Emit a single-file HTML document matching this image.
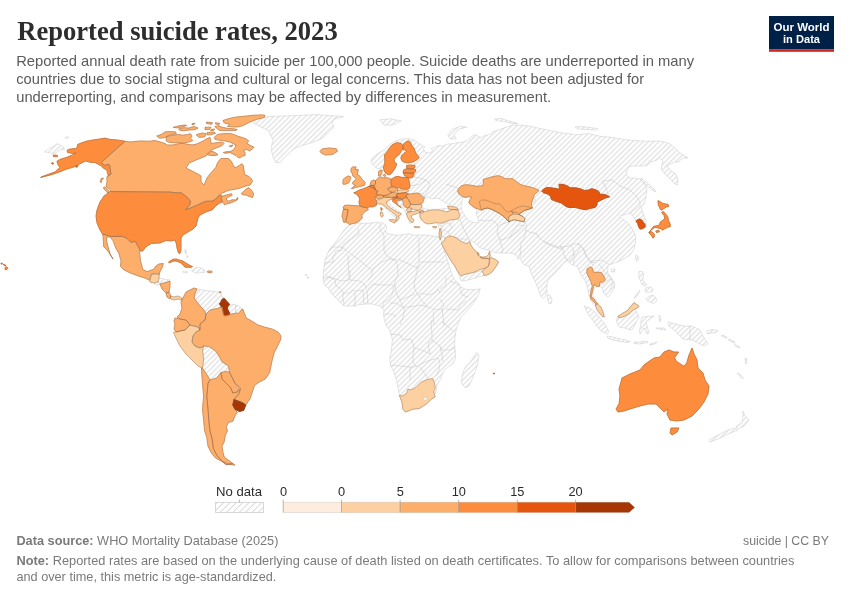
<!DOCTYPE html>
<html><head><meta charset="utf-8"><title>Reported suicide rates, 2023</title>
<style>
html,body{margin:0;padding:0;background:#fff;}
body{width:850px;height:600px;position:relative;overflow:hidden;font-family:"Liberation Sans",sans-serif;}
svg{position:absolute;left:0;top:0;}
text{font-family:"Liberation Sans",sans-serif;}
.ti{font-family:"Liberation Serif",serif;font-weight:bold;font-size:26.4px;fill:#2d2d2d;}
.su{font-size:14.4px;fill:#5b5b5b;}
.lg{font-size:12.8px;fill:#2b2b2b;}
.ft{font-size:12.1px;fill:#7a7a7a;}
.ft .b{font-weight:bold;}
.lo{font-size:11.6px;font-weight:bold;fill:#fff;}
</style></head><body>
<svg width="850" height="600" viewBox="0 0 850 600" style="position:absolute;left:0;top:0">
<defs><pattern id="nd" patternUnits="userSpaceOnUse" width="3.72" height="3.72" patternTransform="rotate(-45)"><rect width="3.72" height="3.72" fill="#fff"/><rect y="0" width="3.72" height="1.25" fill="#e1e1e1"/></pattern></defs>
<g stroke-linejoin="round">
<polygon points="253.2,123 257,119.3 268.2,116.5 296.5,115.5 315.3,114.6 343.5,116.5 334,119.3 332,123 334,127 328.5,132.5 322.8,138 319,140 311.5,142.8 302,145.6 294.6,148.5 289,153 283.3,158.8 279.5,162.6 275.8,162.6 273,157 271,148.5 273,140 268.2,130.6 258.8,125.9" fill="url(#nd)" stroke="#c8c8c8" stroke-width="0.5"/>
<polygon points="371.4,162 371.5,159.1 375,155.6 379.2,152.8 384.8,149.3 389,145.1 394.6,141.6 399.5,139.5 405.1,138.8 410,138.8 414.2,140.2 417.5,142.5 421.25,144.75 425,147 423.5,148.5 425,152.25 428.75,153 431.75,152.25 432.5,150 431,148.5 434,147.75 437,146.25 440,145.5 443,146.25 447.5,144 451.8,143.8 457,142.8 463.5,142 468,140 473,135.5 475.3,134.4 478.8,136.7 481,137.5 484.7,135.5 489.4,134.4 493,132 498.8,129.6 505.9,127.3 513,125 522.4,125 529.4,126.1 536,127.5 540,128.5 549.4,130.4 560,132.5 575.5,134.8 588.5,133.5 598.8,136.1 611.8,137.4 627.3,139.9 645.4,141.2 658,141 665,142 670,144 676,149 680,153 685,156 688,158 684,158 680,160 679,162 675,162 671,164 668,165 667,167 670,170 673,172 676,174 677,177 678,181 677.5,185 675,184 672,181 668,177 664,173 661,169 662,165 663,161 661,159 659,158 657,160 654,161 650,162 648,165 644,166 640,166 633,166 629,167 627,171 626,175 630,178 635,178 640,179 643,182 646,186 647,190 646,195 646,198 644,204 641,207 643,213 646,220 646,227 643,229 640,228 637,223 634,218 630.5,213 625,214.5 619.75,216.25 623.25,219.75 628.5,223.25 632,228.5 635.5,235.5 635.5,242.5 633.75,249.5 630.25,254.75 625,258.25 618,261.75 612.75,263.5 608,265.5 607.5,272.25 611,277.5 614.5,282.75 614.5,288 611,293.25 608,297 604,294 602,288 599,285 596,287 593,290 593,296 596,301 600,306 603,311 605,317 602,316 599,312 596,307 591,301 589,296 588,290 586.5,284 584.75,280 581.25,275.75 577.75,267 574.3,265.3 570.8,264.2 567.3,260.7 565,261.8 562.6,264.2 559.1,268.8 554.5,273.5 549.8,278.1 547.5,281.6 546.9,286.3 546.9,292.1 545.1,296.8 542.8,298.6 540.5,295.6 538.1,288.6 535.2,281.6 532.3,275.8 530,270 528.8,265.9 525.3,265.3 523,263.6 520.7,260.1 517.2,256.6 513.7,253.7 509,253.1 502,253.1 495,252.5 489.6,250.3 484.3,249.3 479.1,247.2 474.9,243 469.6,239.8 470.7,244.6 472.8,248.2 475.9,251.4 477.5,252.4 478.5,255.6 481.2,257.7 486.4,256.6 488.5,254.5 489.6,251.4 490.1,254.5 491.7,257.7 495.9,259.8 498.5,261.9 496.9,265 494.8,268.2 492.7,271.3 488.5,274.5 484.3,275.5 478,277 472,279 466,280.5 461.5,281 460,278 457,270.3 454.9,266.1 451.8,261.9 448.6,256.6 445.5,251.4 443.4,247.2 441.3,243 440.2,239.8 439.2,236.7 439.2,232.5 439,228 437,222.25 431,223 425,222.25 421.25,220 419.75,216.25 419.75,211 416,210.25 413,212.5 410,214 411.5,217.75 413,221.5 410,223.75 408.5,220 407,215.5 405.5,212.5 404,209.5 401,206 397,204 395,201 392,199 389,199 388.25,201.25 390.5,205 395,208.75 399.5,211.75 401.75,214 399.5,216.25 398.75,220 396.5,222.25 395.75,219.25 395,217 392,214.75 388.25,211 384.5,207.25 381.5,204.25 378.5,202.75 375.5,205 371,206.5 365,206.5 368.75,208.75 365.75,211 362.75,214 362,218.5 359.75,221.5 356,222.25 351.5,223.75 349.25,224.5 347.75,221.5 344.75,222.25 342.75,218 342,216.5 342.4,214.25 343.1,211.25 343.5,208.25 343.1,207 345,205.25 349.5,205.25 359.25,206 359.75,205.5 359,202.5 359.75,198.75 358.25,195.75 356,193.9 353.75,192.75 356,192 358.25,190.5 362.75,189 366.5,187.5 368.75,186.4 370.25,184.5 371,181.5 373.25,180 375.5,180.75 377.75,178.5 378.5,175.5 378.5,171.75 380,170.25 382.25,170.25 381.5,174 383.5,175.5 386,176.25 389.75,178.5 391.25,179.25 395,177 398,176.25 402,177.5 404.75,175.5 403.6,172.1 404,170.25 407,168 407,165.75 410,165.4 413.75,165.75 414.9,163 412.8,161.9 408.6,162.9 405.1,162.6 402.3,161.2 400.9,158.4 401.6,155.6 403.7,153.5 406.5,151.4 405.1,150 403,149.3 400.9,151.4 399.5,154.2 396,157 393.9,159.8 394.6,161.9 396.7,164 396,166.1 394.6,168.9 393.2,171 391.1,173.8 388.3,174.8 385.5,173.1 384.1,170.3 383.4,166.8 379.2,168.9 375.7,167.5 372.2,164" fill="url(#nd)" stroke="#c8c8c8" stroke-width="0.5"/>
<polygon points="350,224 360,223 365,223.75 371,223 377,222.25 381.5,222.25 384,224 386,225.25 386.75,228.25 385.25,232 387.5,233.5 395,235 399.5,235 405.5,234.25 408.5,233.5 413,235 419,235 425,235 431,235.75 437,236.5 440,238 441.5,241 444,250 448,262 451,272 454,279 458.5,283.5 460,286.5 466,289.5 475,289.5 480.25,288.75 478,295.5 473.5,303 467.5,310.5 461.5,316.5 458.5,322.5 456,330 455,337.5 454.5,344.5 455.4,351.5 455.4,358.5 452.75,363.75 447.5,367.25 444,370.75 442.25,374.25 440.5,379.5 437,384.75 436.1,391.75 431.75,398.75 426.5,404 419.5,408.4 412.5,409.25 405.5,412 402.9,409.25 402,402.25 399.4,395.25 398.5,390 396.75,381.25 394.1,372.5 390.6,365.5 389.75,358.5 391.5,349.75 392.4,339.25 390.6,332.25 386.25,325.25 384.5,320 383.5,315 384,310 380,306 372,304 364,304 352,306 344,306 338,300 332,294 328,288 324,284 323,278 324,268 325,260 329,250 334,244 340,236 344,230" fill="url(#nd)" stroke="#c8c8c8" stroke-width="0.5"/>
<polygon points="476.4,352.4 479,355 478.1,362 475.5,370.75 472,379.5 468.5,386.5 465,387.4 461.5,383 462.4,374.25 465,367.25 470.25,362 473.75,356.75" fill="url(#nd)" stroke="#c8c8c8" stroke-width="0.5"/>
<polygon points="380,119.8 390.6,118.8 401.2,120.9 392.7,125.1 384.2,125.1" fill="url(#nd)" stroke="#c8c8c8" stroke-width="0.5"/>
<polygon points="447.8,134.6 452,129.4 460.5,126.2 466.8,127.2 458.4,129.4 454.1,134.6 456.2,138.9 449.9,138.9" fill="url(#nd)" stroke="#c8c8c8" stroke-width="0.5"/>
<polygon points="494.1,119 501.2,118.5 508.2,120.8 515.3,122.6 517.6,123.8 510.6,123.2 503.5,121.4 496.5,120.8" fill="url(#nd)" stroke="#c8c8c8" stroke-width="0.5"/>
<polygon points="641,178 646,182 652,187 656,191 655,192 650,188 645,184 641,180" fill="url(#nd)" stroke="#c8c8c8" stroke-width="0.5"/>
<polygon points="611,269 615,269 614.5,272 611.5,272" fill="url(#nd)" stroke="#c8c8c8" stroke-width="0.5"/>
<polygon points="547.5,294.5 550.4,295.6 552.1,300.3 551,303.8 548.6,303.2 547.5,299.1" fill="url(#nd)" stroke="#c8c8c8" stroke-width="0.5"/>
<polygon points="668,322 676,324 684,326 692,326 700,330 704,338 708,344 704,346 696,342 690,339 684,340 680,336 674,330 669,326" fill="url(#nd)" stroke="#c8c8c8" stroke-width="0.5"/>
<polygon points="743,411 745,416 749,420 744,426 738,429 736,427 742,422 743,416" fill="url(#nd)" stroke="#c8c8c8" stroke-width="0.5"/>
<polygon points="734,428 738,430 728,434 718,439 710,442 709,440 716,436 726,431" fill="url(#nd)" stroke="#c8c8c8" stroke-width="0.5"/>
<polygon points="191.8,271.2 194.6,268 198.9,267.3 202.4,268.7 205.6,270.8 204.5,272.6 200.3,272.6 197.5,273.3 194.6,272.6" fill="url(#nd)" stroke="#c8c8c8" stroke-width="0.5"/>
<polygon points="182.6,271.2 186.9,271.2 187.6,272.6 183.3,272.9" fill="url(#nd)" stroke="#c8c8c8" stroke-width="0.5"/>
<polygon points="184.7,249.5 186,250 186.5,254 185.2,253.5" fill="url(#nd)" stroke="#c8c8c8" stroke-width="0.5"/>
<polygon points="186.8,255.5 188.2,256.5 187.6,258 186.5,257" fill="url(#nd)" stroke="#c8c8c8" stroke-width="0.5"/>
<polygon points="575,127 582,126.5 590,127.5 598,128.5 596,130 586,129.5 578,129" fill="url(#nd)" stroke="#c8c8c8" stroke-width="0.5"/>
<polygon points="154,283 158,282 160,284 157.5,285.2 154.5,284.5" fill="url(#nd)" stroke="#c8c8c8" stroke-width="0.5"/>
<polygon points="44.4,151.9 48.75,148.75 53.75,146.25 56.9,143.75 59.4,144.4 63.75,147.5 64.4,149.4 60,150 56.25,152.5 52.5,153.75 48.75,152.5" fill="url(#nd)" stroke="#c8c8c8" stroke-width="0.5"/>
<polygon points="65,137.2 68.75,136.9 68,138.1 65.5,138.1" fill="url(#nd)" stroke="#c8c8c8" stroke-width="0.5"/>
<polygon points="639.2,271.25 642.9,271.7 643.75,275.8 642.5,279.2 644.2,282.5 646.7,284.2 645.8,285.8 642.5,285 640.8,281.7 638.75,277.5 638.75,273.3" fill="url(#nd)" stroke="#c8c8c8" stroke-width="0.5"/>
<polygon points="645,288.3 650,286.7 653.3,289.2 651.7,291.7 648.3,292.5 645.4,291.7" fill="url(#nd)" stroke="#c8c8c8" stroke-width="0.5"/>
<polygon points="648.3,296.7 652.5,295 655.8,297.5 656.7,300.8 654.2,303.3 650.8,302.5 647.5,300.8 645.8,299.2" fill="url(#nd)" stroke="#c8c8c8" stroke-width="0.5"/>
<polygon points="639.6,290.4 640.2,291 634.8,298.3 634.2,297.9" fill="url(#nd)" stroke="#c8c8c8" stroke-width="0.5"/>
<polygon points="635.8,255 638.3,256.7 638.3,260 637.1,261.7 635.4,258.3" fill="url(#nd)" stroke="#c8c8c8" stroke-width="0.5"/>
<polygon points="617,317 618,316 620,315 623,313 626,311.5 629,309 630,307 632,305 634,302.5 636,304 639,306 638,307.5 635,309 637,313 639,316 638,319 635,324 633,329 630,330 625,328 620,327.5 618,325 616.5,321" fill="url(#nd)" stroke="#c8c8c8" stroke-width="0.5"/>
<polygon points="584,306 590,308 596,313 600,318 604,323 607,328 609,332 607,334 603,332 600,330 594,322 588,314" fill="url(#nd)" stroke="#c8c8c8" stroke-width="0.5"/>
<polygon points="607,336 613,337 620,339 626,340 630,341.5 628,342.5 620,341.5 613,340 608,338.5" fill="url(#nd)" stroke="#c8c8c8" stroke-width="0.5"/>
<polygon points="634,342 640,342 647,341 648,342.5 640,344 634,343.5" fill="url(#nd)" stroke="#c8c8c8" stroke-width="0.5"/>
<polygon points="650,344 657,342 656,343.5 650,345.2" fill="url(#nd)" stroke="#c8c8c8" stroke-width="0.5"/>
<polygon points="642,317 654,316 650,319 646,322 647,326 649,333 647,334 644,328 642,331 640,334 639.5,330 641,324 641,320" fill="url(#nd)" stroke="#c8c8c8" stroke-width="0.5"/>
<polygon points="659,315 661,317 660,322 658.8,319" fill="url(#nd)" stroke="#c8c8c8" stroke-width="0.5"/>
<polygon points="656,328 664,328 666,330 660,329.5" fill="url(#nd)" stroke="#c8c8c8" stroke-width="0.5"/>
<polygon points="706.8,331 712,329.5 717.8,330.5 716,332.5 711,333 707.5,334" fill="url(#nd)" stroke="#c8c8c8" stroke-width="0.5"/>
<polygon points="722,335 727,337 726.5,338.2 721.5,336" fill="url(#nd)" stroke="#c8c8c8" stroke-width="0.5"/>
<polygon points="729,339 735,342 734.5,343.2 728.5,340.2" fill="url(#nd)" stroke="#c8c8c8" stroke-width="0.5"/>
<polygon points="735,344.5 740,347 739.5,348 734.5,345.5" fill="url(#nd)" stroke="#c8c8c8" stroke-width="0.5"/>
<polygon points="745,358 746.5,358.5 747,363.5 745.8,364" fill="url(#nd)" stroke="#c8c8c8" stroke-width="0.5"/>
<polygon points="737.5,373 739.5,373.8 743.5,378.2 742.5,378.8 738.5,375" fill="url(#nd)" stroke="#c8c8c8" stroke-width="0.5"/>
<polygon points="305.5,274.5 306.8,274.5 306.8,275.6 305.5,275.6" fill="url(#nd)" stroke="#c8c8c8" stroke-width="0.5"/>
<polygon points="307.5,277 308.8,277 308.8,278.2 307.5,278.2" fill="url(#nd)" stroke="#c8c8c8" stroke-width="0.5"/>
<polygon points="159,278 164,279 170,280 168,282 164,283 160,284 158,282" fill="url(#nd)" stroke="#c8c8c8" stroke-width="0.5"/>
<polygon points="197,289 202,290 210,291 218,292 221,293 222,297 221.5,300 221,302 219.5,303.5 220,305 222,307.5 220,307.5 217.5,308.5 215,309 210,310 206,314 204,310 200,306 197,302 194,298 195,293" fill="url(#nd)" stroke="#c8c8c8" stroke-width="0.5"/>
<polygon points="229.5,304.5 232.5,304.25 235,304.5 236,305 235.5,308 235.5,311 234.5,313.5 232,314 230,314.5 229.5,313 228.5,311 227.5,309 227.5,307 228.5,306" fill="url(#nd)" stroke="#c8c8c8" stroke-width="0.5"/>
<polygon points="236,305 239,306 242,309 240.5,311 238.5,313.5 236.5,313 235.5,311 235.5,308" fill="url(#nd)" stroke="#c8c8c8" stroke-width="0.5"/>
<polygon points="202.5,349.8 209,346.5 215.5,350.8 219.8,357.3 222,361.7 228.5,366 229.6,372.5 226.3,371.4 221,372.5 216.6,378 210,380 206.8,374.7 202.5,368.2 203.6,359.5" fill="url(#nd)" stroke="#c8c8c8" stroke-width="0.5"/>
<polygon points="421,203 422,199 427,197 432,199 437,198 441,200 446,203 451,205 452,207.5 446,208.5 440,209 432,209.5 425,209 422,207" fill="#fff" stroke="#c8c8c8" stroke-width="0.5"/>
<polygon points="463,197 472,198 470,201 469,204 474,207 477,210 476,214 478,218 479,222 475,223 470,221 466,218 464,214 462,211 461,207 462,202" fill="#fff" stroke="#c8c8c8" stroke-width="0.5"/>
<polyline points="358,228 359,234 354,237 349,240 344,244 342,247" fill="none" stroke="#c4c4c4" stroke-width="0.5"/>
<polyline points="342,247 333,247 329,251" fill="none" stroke="#c4c4c4" stroke-width="0.5"/>
<polyline points="342,247 342,250 336,251 335,254 333,256 333,262 324,263" fill="none" stroke="#c4c4c4" stroke-width="0.5"/>
<polyline points="342,247 348,252 358,259 370,269 372,270" fill="none" stroke="#c4c4c4" stroke-width="0.5"/>
<polyline points="348,255 349,280 342,281 332,278 326,276" fill="none" stroke="#c4c4c4" stroke-width="0.5"/>
<polyline points="380,223 380,230 384,235 384,242 384,251 386,255 392,259 396,260" fill="none" stroke="#c4c4c4" stroke-width="0.5"/>
<polyline points="372,269 382,262 390,259 396,260" fill="none" stroke="#c4c4c4" stroke-width="0.5"/>
<polyline points="372,270 372,276 368,280" fill="none" stroke="#c4c4c4" stroke-width="0.5"/>
<polyline points="396,260 397,264 398,272 398,275 394,283 395,284" fill="none" stroke="#c4c4c4" stroke-width="0.5"/>
<polyline points="419,237 419,268" fill="none" stroke="#c4c4c4" stroke-width="0.5"/>
<polyline points="420,262 444,262" fill="none" stroke="#c4c4c4" stroke-width="0.5"/>
<polyline points="419,268 417,268 398,259" fill="none" stroke="#c4c4c4" stroke-width="0.5"/>
<polyline points="417,265 417,273 414,283 415,290 418,295" fill="none" stroke="#c4c4c4" stroke-width="0.5"/>
<polyline points="395,284 396,293 400,300 410,296 415,294" fill="none" stroke="#c4c4c4" stroke-width="0.5"/>
<polyline points="418,295 422,293 428,295 435,293 438,289 440,293" fill="none" stroke="#c4c4c4" stroke-width="0.5"/>
<polyline points="446,277 446,285 440,289" fill="none" stroke="#c4c4c4" stroke-width="0.5"/>
<polyline points="450,281 460,285" fill="none" stroke="#c4c4c4" stroke-width="0.5"/>
<polyline points="460,287 462,295 468,297" fill="none" stroke="#c4c4c4" stroke-width="0.5"/>
<polyline points="446,309 458,310 460,305 466,301" fill="none" stroke="#c4c4c4" stroke-width="0.5"/>
<polyline points="418,295 423,302 428,307 436,310 442,309 444,305 440,299" fill="none" stroke="#c4c4c4" stroke-width="0.5"/>
<polyline points="400,300 403,307 410,307 420,305 428,307" fill="none" stroke="#c4c4c4" stroke-width="0.5"/>
<polyline points="442,309 443,317 444,325" fill="none" stroke="#c4c4c4" stroke-width="0.5"/>
<polyline points="434,311 433,317 434,325" fill="none" stroke="#c4c4c4" stroke-width="0.5"/>
<polyline points="390,303 396,303 405,309 403,317 400,325" fill="none" stroke="#c4c4c4" stroke-width="0.5"/>
<polyline points="323,279 330,277 335,280" fill="none" stroke="#c4c4c4" stroke-width="0.5"/>
<polyline points="335,280 336,286 340,288 343,292" fill="none" stroke="#c4c4c4" stroke-width="0.5"/>
<polyline points="343,292 343,299 344,304" fill="none" stroke="#c4c4c4" stroke-width="0.5"/>
<polyline points="343,293 350,293 353,290 356,291 364,290" fill="none" stroke="#c4c4c4" stroke-width="0.5"/>
<polyline points="355,292 355,307" fill="none" stroke="#c4c4c4" stroke-width="0.5"/>
<polyline points="363,291 364,305" fill="none" stroke="#c4c4c4" stroke-width="0.5"/>
<polyline points="367,290 368,304" fill="none" stroke="#c4c4c4" stroke-width="0.5"/>
<polyline points="350,280 360,281 364,284 367,289" fill="none" stroke="#c4c4c4" stroke-width="0.5"/>
<polyline points="368,289 373,284 380,285 390,285 394,285" fill="none" stroke="#c4c4c4" stroke-width="0.5"/>
<polyline points="394,286 392,295 388,300 384,302 382,308" fill="none" stroke="#c4c4c4" stroke-width="0.5"/>
<polyline points="384,314 392,314 396,317" fill="none" stroke="#c4c4c4" stroke-width="0.5"/>
<polyline points="350,270 350,280" fill="none" stroke="#c4c4c4" stroke-width="0.5"/>
<polyline points="390,334 400,335 403,340 409,339 412,340 414,348 418,349" fill="none" stroke="#c4c4c4" stroke-width="0.5"/>
<polyline points="418,349 424,351 430,354 429,348 428,343 432,340 432,332 431,325 432,320" fill="none" stroke="#c4c4c4" stroke-width="0.5"/>
<polyline points="442,322 450,328 454,332" fill="none" stroke="#c4c4c4" stroke-width="0.5"/>
<polyline points="432,340 440,346 442,350 450,350 455,348" fill="none" stroke="#c4c4c4" stroke-width="0.5"/>
<polyline points="440,347 442,355 443,362" fill="none" stroke="#c4c4c4" stroke-width="0.5"/>
<polyline points="390,365 400,366 410,367 417,366.5" fill="none" stroke="#c4c4c4" stroke-width="0.5"/>
<polyline points="414,348 413,355 413,363 417,366.5" fill="none" stroke="#c4c4c4" stroke-width="0.5"/>
<polyline points="417,366.5 425,362 431,360 438,358" fill="none" stroke="#c4c4c4" stroke-width="0.5"/>
<polyline points="410,367 410,380" fill="none" stroke="#c4c4c4" stroke-width="0.5"/>
<polyline points="420,367 425,374 428,378" fill="none" stroke="#c4c4c4" stroke-width="0.5"/>
<polyline points="438,358 440,363 439,370 436,376" fill="none" stroke="#c4c4c4" stroke-width="0.5"/>
<polyline points="458,217 462,224 463,228 466,233 468,238 470,242" fill="none" stroke="#c4c4c4" stroke-width="0.5"/>
<polyline points="480,220 485,221 492,220 496,223 498,226" fill="none" stroke="#c4c4c4" stroke-width="0.5"/>
<polyline points="498,226 497,233 499,237 500,240" fill="none" stroke="#c4c4c4" stroke-width="0.5"/>
<polyline points="500,240 501,245 503,249 502,253" fill="none" stroke="#c4c4c4" stroke-width="0.5"/>
<polyline points="500,240 505,239 510,237 512,233 516,228 519,225 524.5,225.7" fill="none" stroke="#c4c4c4" stroke-width="0.5"/>
<polyline points="498,226 502,224 506,223 510,222" fill="none" stroke="#c4c4c4" stroke-width="0.5"/>
<polyline points="450,223 452,228 448,232 450,236" fill="none" stroke="#c4c4c4" stroke-width="0.5"/>
<polyline points="450,236 460,239 467,239" fill="none" stroke="#c4c4c4" stroke-width="0.5"/>
<polyline points="442,229 448,232" fill="none" stroke="#c4c4c4" stroke-width="0.5"/>
<polyline points="524.5,221.2 526.75,225.7 525.6,230.2 530,232.4 536.8,233.5 538,236.9 543.5,241.3 551.3,244.7 558,246.9 562.5,246.9 569.2,245.8 574.8,243.6 579.2,244.7 582.6,248 586,255.8 590.4,262.5 594.9,262.5" fill="none" stroke="#c4c4c4" stroke-width="0.5"/>
<polyline points="543.5,241.3 546.8,243.6 554.7,246.9 561.4,249.1 560.3,244.7" fill="none" stroke="#c4c4c4" stroke-width="0.5"/>
<polyline points="525.6,230.2 524.5,236.9 521.2,242.4 520,249.1 521.2,255.8 516.7,259.2" fill="none" stroke="#c4c4c4" stroke-width="0.5"/>
<polyline points="510,236.9 516.7,232.4 521.2,229 524.5,225.7" fill="none" stroke="#c4c4c4" stroke-width="0.5"/>
<polyline points="562.5,246.9 563.6,253.6 565.8,259.2 570.3,260.3 572.5,255.8 577,253.6 580.4,246.9" fill="none" stroke="#c4c4c4" stroke-width="0.5"/>
<polyline points="609,196 605,186 602,181 612,180 620,186 630,190 636,196 640,202 640,206" fill="none" stroke="#c4c4c4" stroke-width="0.5"/>
<polyline points="630.5,213 634,210 640,206" fill="none" stroke="#c4c4c4" stroke-width="0.5"/>
<polyline points="690,326 690,341" fill="none" stroke="#c4c4c4" stroke-width="0.5"/>
<polyline points="458,271 462,275 470,273 482,271 483,272" fill="none" stroke="#c4c4c4" stroke-width="0.5"/>
<polyline points="458,188 452,186 446,184" fill="none" stroke="#c4c4c4" stroke-width="0.5"/>
<polyline points="424,196 428,190 430,184 426,180 420,178 414,177" fill="none" stroke="#c4c4c4" stroke-width="0.5"/>
<polyline points="410,178 414,177 416,172 415,169" fill="none" stroke="#c4c4c4" stroke-width="0.5"/>
<polyline points="410,186 416,185 420,184 426,180" fill="none" stroke="#c4c4c4" stroke-width="0.5"/>
<polyline points="577.6,242.6 580.8,245.8 584.1,249.1 586.3,255.6 590.6,261 595,261" fill="none" stroke="#c4c4c4" stroke-width="0.5"/>
<polyline points="570,244.8 573.3,249.1 574.3,256.7 573.3,263.2" fill="none" stroke="#c4c4c4" stroke-width="0.5"/>
<polyline points="590.6,261 592.8,265.3" fill="none" stroke="#c4c4c4" stroke-width="0.5"/>
<polyline points="595,261 601.4,260 605.8,262 609,264.3" fill="none" stroke="#c4c4c4" stroke-width="0.5"/>
<polyline points="599.3,264.3 602.5,268.6 606.8,274 611.2,278.3 605.8,281.6 601.4,284.8" fill="none" stroke="#c4c4c4" stroke-width="0.5"/>
<polyline points="611.2,278.3 613.3,283.8 610.1,289.2" fill="none" stroke="#c4c4c4" stroke-width="0.5"/>
<polyline points="540,191 536,190.5" fill="none" stroke="#c4c4c4" stroke-width="0.5"/>
<polyline points="533.4,197.4 536,200 531.3,203.8" fill="none" stroke="#c4c4c4" stroke-width="0.5"/>
<polyline points="441.3,236 445.5,237.7" fill="none" stroke="#c4c4c4" stroke-width="0.5"/>
<polyline points="440,224 446,223" fill="none" stroke="#c4c4c4" stroke-width="0.5"/>
<polyline points="446,223 450,223" fill="none" stroke="#c4c4c4" stroke-width="0.5"/>
<polyline points="439.5,226 442,225.5 442,229" fill="none" stroke="#c4c4c4" stroke-width="0.5"/>
<polygon points="5,267.5 6.5,266.8 8,268.2 6.5,269.8 5,269.5" fill="#fd8d3c" stroke="#fd8d3c" stroke-width="0.9"/>
<polygon points="3.2,264.2 5.5,265 5.8,265.8 4,265.4" fill="#fd8d3c" stroke="#fd8d3c" stroke-width="0.9"/>
<polygon points="1,263 2.3,263.2 2,264.2 1,264" fill="#fd8d3c" stroke="#fd8d3c" stroke-width="0.9"/>
<polygon points="618,316 620,315 623,313 626,311.5 629,309 630,307 632,305 634,302.5 636,304 639,306 638,307.5 635,309 632,311 630,313 627,315 624,316.5 621,317.5 618.5,317.5" fill="#fdd0a2" stroke="#fdd0a2" stroke-width="0.9"/>
<polygon points="493.4,373 494.4,373 494.4,374 493.4,374" fill="#fd8d3c" stroke="#fd8d3c" stroke-width="0.9"/>
<polygon points="51.5,163 53,162.6 53.6,163.8 52,164.2" fill="#fd8d3c" stroke="#fd8d3c" stroke-width="0.9"/>
<polygon points="75.5,165.8 77.5,165.2 78,166.6 76,167.3" fill="#fd8d3c" stroke="#fd8d3c" stroke-width="0.9"/>
<polygon points="53,155.3 56,155 58,156 56.5,156.8 53.5,156.5" fill="#fd8d3c" stroke="#fd8d3c" stroke-width="0.9"/>
<polygon points="67,150.4 69.1,149.3 72.3,148.8 75.5,148.5 77.1,147.7 77.6,144.5 79.8,143.5 86.25,141.25 92.5,140 100,139 105,138.1 110,139.4 117.5,140 125,141.25 101.3,162.3 104.3,165.4 108.7,164.2 109.9,166 110.5,171.6 111.1,174 108.7,175.9 107.4,173.4 107.1,170.3 103.1,167.9 101.3,166 98.2,164.2 95,162.5 90,162.25 85.6,161 80,163.75 77.5,165.6 71.25,167.75 67.5,168.75 61.25,171.25 52.5,174.4 40.6,177.5 41.25,176.9 55,171.9 60,167.5 58.1,165 56.9,161.25 60,159.4 66.25,157.5 72.5,155 76.25,152.5 73.4,153.6 70.2,153 67.5,152.5" fill="#fd8d3c" stroke="#fd8d3c" stroke-width="0.9"/>
<polygon points="108,193.2 109.9,191.3 111.8,191.6 170,192 175.6,192.8 181.3,192.8 184.1,194.9 187.6,197.7 190.5,201.2 189.8,204.8 186.9,208.3 185.5,209.7 189.8,208.3 194.7,206.2 198.2,204.8 202.5,202.6 206.7,201.2 212.3,201.2 215.9,199.1 218,196.3 220.1,194.9 222.2,196.3 221.5,199.1 222.2,201.9 219.4,203.3 216,205.5 214,208 212,210 207,211.5 204,213 200,215 198,218 197,222 196,226 193,229 188,232 183,235 181,238 181,244 181,250 180,253.5 178.5,253 177,248 176.5,244 175,240 171,241 166,240.5 160,243 155,243.2 151.4,243.4 146,246.7 142.7,251 140.5,251 138.4,246.7 135.1,241.3 130.9,242.4 126.6,238 122.2,236.4 111.3,236.4 102.6,234.2 100,230 97,223 96,216 97,210 100,202 104,196" fill="#fd8d3c" stroke="#fd8d3c" stroke-width="0.9"/>
<polygon points="125,141.25 130,142 140,141 150,141.25 154.5,140.5 159,141.6 165,143.5 167.25,145 172.5,145 176.25,144.25 180,143.5 183.75,143.5 187.5,144.25 192,145 195.75,144.25 198,143.5 201,142 204,140.5 206.25,139 210,137.5 211.25,143.5 216.5,142.75 222.5,142 224,143.5 221.75,145.75 218,147.25 214.25,148.75 211.25,150.25 208,153 206,156 196,160 189,163 186,168 190,170 198,174 201,176 201,182 204,185 207,178 210,174 215.75,167.5 217.5,163 219.5,160 221,158.5 228.5,158.5 231.5,161.5 233.75,166.75 236,167.5 242,163.75 243.1,165.25 244.25,172 245,175 248.75,176.25 251.25,178.75 252.5,181.25 250,185 245,186.25 240,188.1 233.75,189.4 230,190 226.25,191.25 222.5,193.1 220.1,194.9 218,196.3 215.9,199.1 212.3,201.2 206.7,201.2 202.5,202.6 198.2,204.8 194.7,206.2 189.8,208.3 185.5,209.7 186.9,208.3 189.8,204.8 190.5,201.2 187.6,197.7 184.1,194.9 181.3,192.8 175.6,192.8 170,192 111.5,191.6 110.5,190.1 108.7,188.2 106.2,186.4 106.5,183.9 107.1,181.5 106.8,178.4 107.4,175.9 108.7,175.9 111.1,174 110.5,171.6 109.9,166 108.7,164.2 104.3,165.4 101.3,162.3" fill="#fdae6b" stroke="#fdae6b" stroke-width="0.9"/>
<polygon points="220.5,196.8 224,195.6 228,194.6 231.5,193.8 232.2,195.3 229,196.8 226.5,198.3 226.5,199.8 228.6,201.2 232,199.8 236.25,200 237.5,197.5 238,199.2 235,201 231,202.8 226.5,204 224.3,204.8 223.6,203.3 222.2,201.9 221.5,199.1" fill="#fdae6b" stroke="#fdae6b" stroke-width="0.9"/>
<polygon points="103.4,187.6 105,187 107.4,188.9 108.7,191.3 108,193.2 106.2,191.3 104,188.9" fill="#fdae6b" stroke="#fdae6b" stroke-width="0.9"/>
<polygon points="101.3,178.4 103.4,178.1 101.9,180.2 101,182.7 100.3,181.5" fill="#fdae6b" stroke="#fdae6b" stroke-width="0.9"/>
<polygon points="241.25,193.75 245,190 248.75,187.5 251.25,190 253.75,193.75 252.5,197.5 248.75,196.25 246.25,195 243.75,195" fill="#fdae6b" stroke="#fdae6b" stroke-width="0.9"/>
<polygon points="156.75,136 161.25,134.5 165,131.9 169.5,131.5 175.5,131.9 176.25,133.75 171,134.5 167.25,136 165,137.5 159.75,138.25" fill="#fdae6b" stroke="#fdae6b" stroke-width="0.9"/>
<polygon points="166.5,136.75 172.5,135.25 178.5,134.5 183,135.25 187.5,134.5 190.5,133.75 192,136 190.5,138.25 192.75,140.5 189,142 184.5,142.75 180,142.75 174.75,142.75 169.5,142.4 166.5,141.25 166.1,139" fill="#fdae6b" stroke="#fdae6b" stroke-width="0.9"/>
<polygon points="173.25,127.4 178.5,125.9 184.5,125.1 186.75,125.5 182.25,127 176.25,127.75" fill="#fdae6b" stroke="#fdae6b" stroke-width="0.9"/>
<polygon points="178.5,128.9 183.75,127.75 189,128.1 192,127 194.25,126.6 198,128.1 195,129.6 189,130 183.75,130.75 180,130.4" fill="#fdae6b" stroke="#fdae6b" stroke-width="0.9"/>
<polygon points="196.5,134.5 202.5,133 206.25,133.75 204.75,136.75 199.5,137.5 197.25,136" fill="#fdae6b" stroke="#fdae6b" stroke-width="0.9"/>
<polygon points="206.5,122 212.5,122.75 211.75,124.25 206.5,123.5" fill="#fdae6b" stroke="#fdae6b" stroke-width="0.9"/>
<polygon points="215.5,122.75 220,123.5 218.5,124.6 215.5,124" fill="#fdae6b" stroke="#fdae6b" stroke-width="0.9"/>
<polygon points="205,127.25 211,127.25 209.5,129.5 205,129.5" fill="#fdae6b" stroke="#fdae6b" stroke-width="0.9"/>
<polygon points="211,129.5 214.75,129.1 213.25,130.6 210.6,130.6" fill="#fdae6b" stroke="#fdae6b" stroke-width="0.9"/>
<polygon points="207.25,132.5 214,132.1 215.5,133.25 211,134.75 207.25,134.75" fill="#fdae6b" stroke="#fdae6b" stroke-width="0.9"/>
<polygon points="192,123.6 195,123.3 194,124.6 192,124.6" fill="#fdae6b" stroke="#fdae6b" stroke-width="0.9"/>
<polygon points="223,120.5 227.5,119 233.5,117.5 238.75,116.75 246.25,116 253.75,115.25 261.25,114.9 265,115.25 264.25,117.5 257.5,119 253.75,120.5 250,122 247,123.5 242.5,125.75 238,126.9 232.75,126.9 227.5,126.5 229.75,124.25 226,123.5 223.75,122.4" fill="#fdae6b" stroke="#fdae6b" stroke-width="0.9"/>
<polygon points="214.75,126.5 218.5,125.75 222.25,127.25 227.5,128.4 233.5,128.75 237.25,129.5 235,130.6 227.5,130.6 220,130.6 217.75,129.1" fill="#fdae6b" stroke="#fdae6b" stroke-width="0.9"/>
<polygon points="214.25,137.5 217.25,134.5 222.5,133.75 230,133.4 233.75,134.5 237.5,136 242,137.5 246.5,139 248.75,141.25 246.5,143.1 249.5,145 254,147.25 252.5,148.75 249.5,151 246.5,149.5 243.5,150.25 245,152.5 245,155.5 242,156.25 240.5,157.75 238.25,157.75 236,155.5 233,154 230,152.5 225.5,153.25 223.25,152.5 226.25,151.75 230.75,151.4 233.75,149.5 235.25,147.25 236,145 233,143.5 230,142 226.25,141.25 222.5,140.5 218.75,140.1 215,139.4" fill="#fdae6b" stroke="#fdae6b" stroke-width="0.9"/>
<polygon points="229.25,146.1 233,145 231.5,146.9" fill="#fdae6b" stroke="#fdae6b" stroke-width="0.9"/>
<polygon points="207.5,154.75 211.25,151 215,152.5 218,154.75 215,155.5 211.25,155.5" fill="#fdae6b" stroke="#fdae6b" stroke-width="0.9"/>
<polygon points="102.6,234.2 111.3,236.4 122.2,236.4 126.6,238 130.9,242.4 135.1,241.3 138.4,246.7 140.5,251 139.4,251.5 140.5,260.8 142.7,269.4 147,271.6 153.5,269.4 155.7,266.2 159,264 163.3,263.5 162.2,267.3 160,271.6 159,275 157,274 152,274 149.7,280.3 144.9,278.1 138.4,276 129.7,272.7 123.2,269.4 120.5,266.2 121,260.8 118.8,253.2 115.6,247.8 113.4,241.3 110.2,236.9 106.9,236.9 106.4,240.2 108,246.7 110.2,254.3 112.9,258.6 112.9,259.1 111.3,256.4 108,251 103.7,246.7 103.1,235.9" fill="#fdae6b" stroke="#fdae6b" stroke-width="0.9"/>
<polygon points="151,274 156,273.6 159,273 159,278 158,282 154,283 150,282 150,278" fill="#fdd0a2" stroke="#fdd0a2" stroke-width="0.9"/>
<polygon points="160,284 164,283 168,282 170,281 170,286 169,292 166,293 162,289" fill="#fdae6b" stroke="#fdae6b" stroke-width="0.9"/>
<polygon points="166,293 169,292 171,296 170,299 167,297" fill="#fdae6b" stroke="#fdae6b" stroke-width="0.9"/>
<polygon points="170,296 174,297 178,296 182,298 182,300 178,299 174,300 171,299" fill="#fdd0a2" stroke="#fdd0a2" stroke-width="0.9"/>
<polygon points="168.5,262.3 170.6,260.6 173.5,259.2 176.3,259 179.1,259.9 182.6,260.9 185.5,262.7 188.3,264.5 191.1,265.9 192.5,266.6 191.1,267.3 187.6,267.3 185.5,267.3 184,266.2 182.6,264.8 180.5,262.7 177.7,261.6 174.9,260.9 172.1,261.6 169.9,262.7" fill="#fd8d3c" stroke="#fd8d3c" stroke-width="0.9"/>
<polygon points="207.6,271 212,271.2 211.8,272.7 207.8,272.6" fill="#fdae6b" stroke="#fdae6b" stroke-width="0.9"/>
<polygon points="219.5,291.6 221,291.8 220.8,292.8 219.5,292.6" fill="#fdae6b" stroke="#fdae6b" stroke-width="0.9"/>
<polygon points="320,151.25 322.5,148.75 330,148 336.25,148.75 337.5,151.25 332.5,154.5 325,155 321.25,153" fill="#fdae6b" stroke="#fdae6b" stroke-width="0.9"/>
<polygon points="197,289 194,288 190,290 186,292 183,298 181,302 182,308 180,314 177,317 180,319 186,320 190,325 194,326 198,327 200,330 200,324 205,320 206,314 204,310 200,306 197,302 194,298 195,293" fill="#fdae6b" stroke="#fdae6b" stroke-width="0.9"/>
<polygon points="223.5,298.25 225,299 226.5,301 228.5,303 229.5,304.5 228.5,306 227.5,307 227.5,309 228.5,311 229.5,313 230,314.5 227.5,315.5 225,316 223.5,315 223,312.5 222.5,310 222,307.5 220,305 219.5,303.5 221,302 221.5,300" fill="#a63603" stroke="#a63603" stroke-width="0.9"/>
<polygon points="206,314 210,310 215,309 217.5,308.5 220,307.5 222,307.5 223,312.5 223.5,315 225,316 227.5,315.5 230,314.5 232,314 234.5,313.5 236.5,313 238.5,313.5 240.5,311 242,309 243,309.5 244,312.5 245.5,316 246,318 250,320 258,325 264,327 272,329 278,332 281,336 280.5,340 277.3,346.5 274,353 271.8,361.7 269.7,372.5 265.3,379 258.8,382.3 254.5,385.5 252.3,392 250.2,398.5 245.8,405 242.6,402.8 237.2,400.7 233.9,399.6 239.3,392 240.4,387.7 235,383.3 231.8,376.8 229.6,372.5 228.5,366 222,361.7 219.8,357.3 215.5,350.8 209,346.5 204,346 200,348 195,346 192,342 193,336 196,332 200,330 200,324 205,320" fill="#fdae6b" stroke="#fdae6b" stroke-width="0.9"/>
<polygon points="173.6,332.4 176,338 180,346 186,354 192,360 198,366 202.5,368.2 203.6,359.5 202.5,349.8 204,346 200,348 195,346 192,342 193,336 196,332 200,330 198,327 194,326 190,325 188,327 185,330 180,331 176,332" fill="#fdd0a2" stroke="#fdd0a2" stroke-width="0.9"/>
<polygon points="175,318 180,319 186,320 190,325 188,327 185,330 180,331 176,332 174,329 175,324 174,321" fill="#fdae6b" stroke="#fdae6b" stroke-width="0.9"/>
<polygon points="221,372.5 226.3,371.4 229.6,372.5 231.8,376.8 235,383.3 239.3,387.7 237.2,392 232.8,393 230.7,387.7 226.3,383.3 222,379" fill="#fdae6b" stroke="#fdae6b" stroke-width="0.9"/>
<polygon points="210,380 216.6,378 221,372.5 222,379 226.3,383.3 230.7,387.7 232.8,393 237.2,392 240.4,388.8 239.3,394.2 235,398.5 232.8,405 235,409.3 237.2,412.6 235,415.8 232.8,421.3 228.5,422.3 226.3,426.7 227.4,431 225.3,435.3 224.2,441.8 222,446.2 223,452.7 224.2,457 232.8,463.5 226.3,464.6 222,461.3 216.6,454.8 213.3,448.3 212.3,439.7 210,431 209,422.3 208,409.3 206.8,396.3 208,383.3" fill="#fdae6b" stroke="#fdae6b" stroke-width="0.9"/>
<polygon points="201.4,368.2 202.5,368.2 206.8,374.7 210,380 208,383.3 206.8,396.3 208,409.3 209,422.3 210,431 212.3,439.7 213.3,448.3 216.6,454.8 222,461.3 226.3,464.6 232.8,463.5 235,465.2 228.5,464 222,461.3 215.5,458 211.2,452.7 208,446.2 206.8,437.5 204.7,431 203.6,420.2 202.5,409.3 203.6,396.3 202.5,383.3" fill="#fdae6b" stroke="#fdae6b" stroke-width="0.9"/>
<polygon points="233.9,399.6 237.2,400.7 242.6,402.8 245.8,405 243.7,410.4 239.3,411.5 235,409.3 232.8,405" fill="#a63603" stroke="#a63603" stroke-width="0.9"/>
<polygon points="350.8,171.2 351.3,168 352.9,166.9 356.1,166.9 355.1,169.6 358.3,169.6 357.7,172.8 357.2,174.4 359.3,175.5 360.9,177.6 362.5,179.7 364.1,181.3 365.2,182.4 364.7,185.1 362,186.1 359.3,186.7 356.1,187.2 353.5,188.3 351.3,188.5 353.5,186.7 355.6,185.6 353.5,184.5 352.4,183.5 353.5,181.3 355.1,180.3 356.1,178.7 355.6,177.6 354,177 352.9,176 352.4,173.9" fill="#fdae6b" stroke="#fdae6b" stroke-width="0.9"/>
<polygon points="342.8,182.9 343.3,179.2 346,177.1 348.1,176 350.3,176.5 350.8,178.1 349.7,180.8 348.7,182.9 346,184 343.3,184.3" fill="#fdae6b" stroke="#fdae6b" stroke-width="0.9"/>
<polygon points="397.4,142.6 401.6,143.7 403,146.5 403,149.3 400.9,151.4 399.5,154.2 396,157 393.9,159.8 394.6,161.9 396.7,164 396,166.1 394.6,168.9 393.2,171 391.1,173.8 388.3,174.8 385.5,173.1 384.1,170.3 383.4,166.8 384.8,164 384.8,159.1 384.4,154.9 386.9,152.1 389.7,147.9 391.8,145.1 394.6,143.7" fill="#fd8d3c" stroke="#fd8d3c" stroke-width="0.9"/>
<polygon points="406.5,141.6 409.3,140.9 410.7,143 412.1,145.8 414.2,148.6 415.6,152.8 418.4,156.3 419.1,157.7 417,159.8 412.8,161.9 408.6,162.9 405.1,162.6 402.3,161.2 400.9,158.4 401.6,155.6 403.7,153.5 406.5,151.4 405.1,150 403,149.3 403,146.5 403.7,143.7" fill="#fd8d3c" stroke="#fd8d3c" stroke-width="0.9"/>
<polygon points="406.5,165.4 410,165 414.9,165.4 415,167.5 413,168.9 409,168.6 406.8,168" fill="#fd8d3c" stroke="#fd8d3c" stroke-width="0.9"/>
<polygon points="403.5,170 406.8,168.6 409,168.9 413,168.9 415.6,169.6 415.6,171.5 414,173.1 410,173.1 406,172.8 403.2,172.5" fill="#fd8d3c" stroke="#fd8d3c" stroke-width="0.9"/>
<polygon points="403.2,172.8 406,172.8 410,173.1 414,173.1 413.5,175 412.8,177 410,178 407,177.5 404.5,175.5" fill="#fd8d3c" stroke="#fd8d3c" stroke-width="0.9"/>
<polygon points="391.25,179.25 395,177 398,176.25 402,177.5 407,177.75 408.5,178 409.25,181.75 410,186.25 409.25,188.5 407,189.25 402.5,188.9 398.75,187.75 397.25,188.25 393.5,186.75 392,186.75 390.9,183" fill="#fd8d3c" stroke="#fd8d3c" stroke-width="0.9"/>
<polygon points="375.5,180.75 377.75,178.5 380,177 383,177.75 386,177.75 389.75,178.5 391.25,179.25 390.9,183 392,186.75 389,187.5 387.5,189 389.75,191.25 392,192.4 389.75,193.5 387.5,195 383,195.75 381.5,195 377.75,195 376.25,193.5 377.75,191.25 375.5,189.75 374.75,187.5 374,185.6 375.5,183.75" fill="#fdae6b" stroke="#fdae6b" stroke-width="0.9"/>
<polygon points="378.5,171.75 380,170.25 382.25,170.25 381.5,174 380,176.25 378.5,175.5" fill="#fdae6b" stroke="#fdae6b" stroke-width="0.9"/>
<polygon points="384.2,174 386,175.5 384.5,176.6 383.5,175.5" fill="#fdae6b" stroke="#fdae6b" stroke-width="0.9"/>
<polygon points="370.25,184.5 371,181.5 373.25,180 375.5,180.75 375.5,183.75 374,185.6 371,185.25" fill="#fdae6b" stroke="#fdae6b" stroke-width="0.9"/>
<polygon points="368.75,186.4 371,185.25 374,185.6 374.75,187.5 375.5,189.75 373.25,187.9 371,186.75" fill="#fd8d3c" stroke="#fd8d3c" stroke-width="0.9"/>
<polygon points="353.75,192.75 356,192 358.25,190.5 362.75,189 366.5,187.5 368.75,186.4 371,186.75 373.25,187.9 375.5,189.75 377.75,191.25 376.25,193.5 377.75,195 376.25,196.5 375.5,196.5 374.75,198 376.25,200.25 377,202.5 376.5,203.75 376.25,205.5 375,206 371.75,207 369.75,206.75 367.5,207.5 363,207.1 360,206 359.75,205.5 359,202.5 359.75,198.75 358.25,195.75 356,193.9" fill="#fd8d3c" stroke="#fd8d3c" stroke-width="0.9"/>
<polygon points="381,207.5 382.1,208.6 381.75,210.5 380.9,209.75" fill="#fd8d3c" stroke="#fd8d3c" stroke-width="0.9"/>
<polygon points="375.5,196.5 377.75,195 381.5,195 383,195.75 383.75,197.25 381.5,198.75 378.5,198.75 376.25,198" fill="#fdae6b" stroke="#fdae6b" stroke-width="0.9"/>
<polygon points="343.5,208.25 343.1,207 345,205.25 349.5,205.25 354,205.6 359.25,206 363,207.1 367.5,208.25 368.25,209.75 365.25,211.25 363,213.5 361.5,215.75 362.25,218 360,220.25 357,222.5 354,223.25 351,224 349.5,224.75 348,223.25 345.75,221.75 346.1,219.5 346.9,216.5 347.6,212.75 348,209.75 343.5,209" fill="#fdae6b" stroke="#fdae6b" stroke-width="0.9"/>
<polygon points="343.5,209 348,209.75 347.6,212.75 346.9,216.5 346.1,219.5 345.75,221.75 345,222.5 343.5,222.1 343.1,220.25 342.75,218 342,216.5 342.4,214.25 343.1,211.25" fill="#fdae6b" stroke="#fdae6b" stroke-width="0.9"/>
<polygon points="376.5,201 377.75,199.5 380,198.75 383.75,197.25 386,197.25 389.75,197.25 392.75,199.1 388.5,200.25 386.25,201.75 387,204.75 390,207.75 393.75,210 397.5,212.25 401.25,213.75 399.75,215.25 398.25,216 399,218.25 397.5,219.75 396.75,221.25 396,219 396.75,216.75 395.25,214.5 392.25,212.25 388.5,209.25 384.75,206.25 381.75,204 378.75,204 376.5,203.25" fill="#fdd0a2" stroke="#fdd0a2" stroke-width="0.9"/>
<polygon points="389.25,219.75 393,219.4 395.6,220.5 394.9,223.1 392.25,222 390,220.9" fill="#fdd0a2" stroke="#fdd0a2" stroke-width="0.9"/>
<polygon points="380.25,212 382.5,212.4 383.25,216.1 381.75,217.25 380.6,215.75" fill="#fdd0a2" stroke="#fdd0a2" stroke-width="0.9"/>
<polygon points="383.75,196.9 383,195.75 387.5,195 389.75,193.5 392,192.4 395.75,192.75 397.25,193.25 398,193.5 396.5,194.5 397.25,196.5 393.5,197.25 389.75,197.25 386,197.25" fill="#fdae6b" stroke="#fdae6b" stroke-width="0.9"/>
<polygon points="387.5,189 390.5,187.5 393.5,186.75 397.25,188.25 398,190.5 397.25,190.75 395,191.25 392,192.4 389.75,191.25" fill="#fdae6b" stroke="#fdae6b" stroke-width="0.9"/>
<polygon points="397.25,190.75 399.5,190 403.25,190 407,189.6 408.9,190.75 406.25,192.25 402.5,193 399.5,193.4 398,193.5 398,192.6" fill="#fdd0a2" stroke="#fdd0a2" stroke-width="0.9"/>
<polygon points="396.5,194.5 398,193.5 399.5,193.4 402.5,193 406.25,192.6 408.5,194.1 406.25,195.25 406.25,196.75 403.25,198.25 399.5,198.25 397.25,197.5 397.25,196.5" fill="#fd8d3c" stroke="#fd8d3c" stroke-width="0.9"/>
<polygon points="392.75,199.1 392.75,197.5 393.5,197.25 397.25,196.5 397.25,197.9 395,198.25 394,199.5" fill="#fd8d3c" stroke="#fd8d3c" stroke-width="0.9"/>
<polygon points="395,198.25 397.25,197.9 399.5,198.6 402.5,199.75 399.5,200.5 396.5,201.25 398,205 401.25,207.75 399,206.25 395.25,203.25 392.25,201 394,199.5" fill="#fd8d3c" stroke="#fd8d3c" stroke-width="0.9"/>
<polygon points="402.5,199 406.25,197.5 406.25,196.75 408.5,199.75 410,202.75 410.75,204.25 410,205.5 409.25,207.25 406.25,208 404,205.75 403.25,203.5 402.5,200.5 402.5,199.75" fill="#fdae6b" stroke="#fdae6b" stroke-width="0.9"/>
<polygon points="406.25,195.25 408.5,194.1 412.25,193.75 416.75,193 419.75,193.75 422,196 424.25,197.5 423.5,200.5 422.75,202.75 419.75,204.25 416.75,204.6 413,204.6 410.75,204.25 410,202.75 408.5,199.75 406.25,196.75" fill="#fdae6b" stroke="#fdae6b" stroke-width="0.9"/>
<polygon points="410.75,204.25 413,204.6 416.75,204.6 419.75,204.25 422,205 421.25,208 420.5,209.5 417.5,210.25 414.5,209.5 411.5,208.75 410.25,206.5 410,205.5" fill="#fdd0a2" stroke="#fdd0a2" stroke-width="0.9"/>
<polygon points="406.5,209.25 409.25,207.25 410.25,208.9 411.5,208.75 411,211.5 408,212.25" fill="#fdd0a2" stroke="#fdd0a2" stroke-width="0.9"/>
<polygon points="406.5,213 408,212.25 411,211.5 414,211.5 417.5,210.25 418.5,210.75 420,212.25 417,213.75 414,214.5 411.75,215.25 411,217.5 414,219.75 412.5,222.75 410.25,221.25 408.75,219 407.25,216.75" fill="#fdd0a2" stroke="#fdd0a2" stroke-width="0.9"/>
<polygon points="414,226.5 420,226.9 419.25,227.6 414.75,227.6" fill="#fdd0a2" stroke="#fdd0a2" stroke-width="0.9"/>
<polygon points="421.5,210.75 425,211.75 428.75,210.6 433.25,209.9 437.75,209.9 442.25,210.6 446.75,212.1 449,211 452,209.5 455,209.5 458,210 460,216 458,219 450,220 442,223 435,222.75 432,223.5 427.5,223.9 424.5,222.75 421.5,219.75 420,216.75 420,213" fill="#fdd0a2" stroke="#fdd0a2" stroke-width="0.9"/>
<polygon points="419.75,211 422.75,210.25 423.5,212.5 420.5,213.25" fill="#fdd0a2" stroke="#fdd0a2" stroke-width="0.9"/>
<polygon points="432.5,226.75 436,226.5 437,226.9 435,228.25" fill="#fdd0a2" stroke="#fdd0a2" stroke-width="0.9"/>
<polygon points="447.5,206 451,206.5 455,207 458,208.5 458,210 455,209.5 452,209.5 449,209" fill="#fdd0a2" stroke="#fdd0a2" stroke-width="0.9"/>
<polygon points="458.2,189 461.4,185.8 465.6,184.7 470.9,185.2 476.2,186.3 482.5,185.8 483.6,182.6 483.1,179.4 486.8,178.4 492.1,176.8 497.4,175.7 500.6,176.2 504.8,178.4 509,178.9 512.2,178.4 516.4,181.5 520.7,184.7 524.9,185.8 529.2,186.8 533.4,187.9 538.7,190 537.6,192.1 534.4,194.2 533.4,197.4 532.3,200.6 531.3,203.8 532.3,208 529.2,209.1 524.9,210.1 521.7,212.3 518.6,214.4 522.8,216.5 524.9,218.6 523.9,221.8 518.6,220.7 514.3,219.7 511.1,220.7 509,221.8 506.9,219.7 503.7,216.5 499.5,213.3 495.3,211.2 491,209.1 487.8,208 484.7,208.5 481.5,210.1 478.3,209.1 475.1,208 472,205.9 468.8,202.7 469.8,199.5 472,197.4 468.8,196.4 465.6,197.4 462.4,196.4 459.2,194.2 457.6,191.6" fill="#fdae6b" stroke="#fdae6b" stroke-width="0.9"/>
<polygon points="479.4,201.7 481.5,200.1 485.7,200.1 490,201.7 495.3,203.8 499.5,203.8 502.7,207 504.8,210.1 508,212.3 511.1,211.2 513.3,212.3 512.2,214.4 509,216.5 508.5,218.6 509,221.8 506.9,219.7 503.7,216.5 499.5,213.3 495.3,211.2 491,209.1 487.8,208 484.7,208.5 481.5,210.1 480.4,207" fill="#fdae6b" stroke="#fdae6b" stroke-width="0.9"/>
<polygon points="511.1,211.2 514.3,209.1 518.6,207 522.8,205.9 529.2,207 532.3,208 529.2,209.1 524.9,210.1 521.7,212.3 518.6,214.4 516.4,212.3 513.3,212.3" fill="#fdae6b" stroke="#fdae6b" stroke-width="0.9"/>
<polygon points="509,216.5 512.2,214.4 514.3,214.4 518.6,214.4 522.8,216.5 524.9,218.6 523.9,221.8 518.6,220.7 514.3,219.7 511.1,220.7 509,221.8 508.5,218.6" fill="#fdd0a2" stroke="#fdd0a2" stroke-width="0.9"/>
<polygon points="541.6,191 544.3,188.7 547,187.4 551.4,187.8 559.5,189.2 559,184.3 563,184.3 567.5,186 570.2,187.8 575.6,187.8 580,188.7 584.5,190.5 588.1,190.1 591.7,188.7 595.2,189.6 598.8,191.4 599.7,194.1 605.1,194.5 609.6,196.8 606,197.7 600.6,200.4 597,202.2 597,204.8 595.2,207.5 589.9,208.4 586.3,209.8 580.9,208.9 575.6,207.5 568.4,207.5 564.8,205.7 561.3,203 555.9,201.3 551.4,199.5 550.5,195.9 547,193.7 543.4,192.8" fill="#e6550d" stroke="#e6550d" stroke-width="0.9"/>
<polygon points="441.3,243 444.4,240.4 445.5,237.7 448.6,236.2 451.8,236.2 456,237.7 460.2,240.9 464.4,243 467.5,243.5 468.6,241.9 470.2,242.5 470.7,244.6 472.8,248.2 475.9,251.4 478,253.5 479.1,255.6 481.2,257.7 485.4,258.2 488.5,258.7 489.6,260.8 488.5,266.1 485.4,268.2 479.1,269.7 473.8,272.4 468.6,273.4 464.4,274.5 461.2,276 459.1,273.4 457,270.3 454.9,266.1 451.8,261.9 448.6,256.6 445.5,251.4 443.4,247.2" fill="#fdd0a2" stroke="#fdd0a2" stroke-width="0.9"/>
<polygon points="480.1,256.6 483.3,257.2 486.4,256.6 488.5,254.5 489.6,251.4 490.1,254.5 489.6,258.7 485.4,258.7 481.2,258.2" fill="#fdd0a2" stroke="#fdd0a2" stroke-width="0.9"/>
<polygon points="477.5,252.4 479.1,253.5 478.5,255.6 477.5,254.5" fill="#fdd0a2" stroke="#fdd0a2" stroke-width="0.9"/>
<polygon points="489.6,258.7 491.7,257.7 495.9,259.8 498.5,261.9 496.9,265 494.8,268.2 492.7,271.3 488.5,274.5 484.3,275.5 482.2,271.3 485.4,268.2 488.5,266.1 489.6,260.8" fill="#fdd0a2" stroke="#fdd0a2" stroke-width="0.9"/>
<polygon points="440.2,228.3 441.3,231.4 441.3,235.6 440.2,239.8 439.2,236.7 439.2,232.5" fill="#fdd0a2" stroke="#fdd0a2" stroke-width="0.9"/>
<polygon points="636.25,220.5 639.25,219 641.5,219.75 643.75,222.75 645.25,225 644.9,227.25 642.25,228.75 640,229.1 638.5,226.5 637.75,223.5 636.6,222" fill="#e6550d" stroke="#e6550d" stroke-width="0.9"/>
<polygon points="658,200.6 660.25,201.75 662.5,203.25 665.5,204 668.1,204.4 668.9,206.25 666.25,207 664,208.5 661.75,210 660.25,209.25 659.5,207 658.4,205.5" fill="#fd8d3c" stroke="#fd8d3c" stroke-width="0.9"/>
<polygon points="661.75,212.25 663.25,211.5 665.5,213.75 667.75,216.75 668.5,220.5 670,223.5 670.4,226.5 667.75,227.25 664.75,228.75 662.5,230.25 661,228.75 658,228 655,227.25 652.75,228.75 650.5,231 649,232.5 651.25,229.5 653.5,226.5 656.5,225.75 659.5,225 660.25,222 662.5,220.5 664.75,218.25 664,215.25 662.5,213.75" fill="#fd8d3c" stroke="#fd8d3c" stroke-width="0.9"/>
<polygon points="649,232.5 652,231.75 654.25,234 654.25,237 652.75,238.1 651.6,235.5 649.75,234" fill="#fd8d3c" stroke="#fd8d3c" stroke-width="0.9"/>
<polygon points="655.75,231 658.75,230.25 659.5,231.75 656.5,232.5" fill="#fd8d3c" stroke="#fd8d3c" stroke-width="0.9"/>
<polygon points="586.9,269.1 590.2,266.9 592.3,268 593.4,272.3 596.6,272.3 601,272.3 603.7,275.6 605.3,279.9 603.1,282.1 599.9,282.1 599.4,286.4 596.6,286.4 594.5,284.2 593.4,287.5 592.3,291.8 591.2,297.2 593.4,298.3 595.6,301.5 597.7,303.7 596.6,304.8 594.5,302.6 591.2,299.4 590.2,296.1 591.2,289.6 592.3,286.4 591.2,282.1 589.1,277.7 586.9,273.4" fill="#fdae6b" stroke="#fdae6b" stroke-width="0.9"/>
<polygon points="595.6,303.7 597.7,304.2 601,307 602.6,311.3 604.2,316.7 602.6,316.7 598.8,312.4 596.6,309.1 595.6,305.9" fill="#fdd0a2" stroke="#fdd0a2" stroke-width="0.9"/>
<polygon points="622,378 630,374 640,370 644,365 648,362 654,358 660,357 664,352 669,350 674,352 678.6,352 674.6,357.6 676,361 684,366.3 687,362.4 688.7,356 692,348 694,354 697,360 698,368 703,373 705,380 709,386 708,394 704,402 698,410 692,416 684,420 677,421 670,420 667,414 668,409 664,412 660,408 656,404 648,404 640,406 630,409 624,411 618,412 616,409 619,404 620,396 619,389 621,382" fill="#fd8d3c" stroke="#fd8d3c" stroke-width="0.9"/>
<polygon points="671,428 679,428 677,432 672,435 670,433" fill="#fd8d3c" stroke="#fd8d3c" stroke-width="0.9"/>
<polygon points="399.4,395.25 402,396.1 406.4,393.5 408.1,389.1 410.75,390 416,387.4 421.25,382.1 427.4,379.5 432.6,378.6 434.4,383 435.25,388.25 433.5,391.75 435.25,397 431.75,398.75 426.5,404 419.5,408.4 412.5,409.25 405.5,412 402.9,409.25 402,402.25" fill="#fdd0a2" stroke="#fdd0a2" stroke-width="0.9"/>
<polygon points="419.75,193.75 422,193 424.25,196 424.25,197.5 422,196" fill="url(#nd)" stroke="#c8c8c8" stroke-width="0.5"/>
<polygon points="396.5,201.25 399.5,200.5 402.5,200.5 403.25,203.5 401.75,206.5 398,205" fill="url(#nd)" stroke="#c8c8c8" stroke-width="0.5"/>
<polygon points="423,397 427.4,397.9 425.6,400.5 423.9,399.6" fill="url(#nd)" stroke="#c8c8c8" stroke-width="0.5"/>
<g fill="none" stroke="#6b5545" stroke-width="0.45" stroke-opacity="0.75">
<polygon points="5,267.5 6.5,266.8 8,268.2 6.5,269.8 5,269.5"/>
<polygon points="3.2,264.2 5.5,265 5.8,265.8 4,265.4"/>
<polygon points="1,263 2.3,263.2 2,264.2 1,264"/>
<polygon points="618,316 620,315 623,313 626,311.5 629,309 630,307 632,305 634,302.5 636,304 639,306 638,307.5 635,309 632,311 630,313 627,315 624,316.5 621,317.5 618.5,317.5"/>
<polygon points="493.4,373 494.4,373 494.4,374 493.4,374"/>
<polygon points="51.5,163 53,162.6 53.6,163.8 52,164.2"/>
<polygon points="75.5,165.8 77.5,165.2 78,166.6 76,167.3"/>
<polygon points="53,155.3 56,155 58,156 56.5,156.8 53.5,156.5"/>
<polygon points="67,150.4 69.1,149.3 72.3,148.8 75.5,148.5 77.1,147.7 77.6,144.5 79.8,143.5 86.25,141.25 92.5,140 100,139 105,138.1 110,139.4 117.5,140 125,141.25 101.3,162.3 104.3,165.4 108.7,164.2 109.9,166 110.5,171.6 111.1,174 108.7,175.9 107.4,173.4 107.1,170.3 103.1,167.9 101.3,166 98.2,164.2 95,162.5 90,162.25 85.6,161 80,163.75 77.5,165.6 71.25,167.75 67.5,168.75 61.25,171.25 52.5,174.4 40.6,177.5 41.25,176.9 55,171.9 60,167.5 58.1,165 56.9,161.25 60,159.4 66.25,157.5 72.5,155 76.25,152.5 73.4,153.6 70.2,153 67.5,152.5"/>
<polygon points="108,193.2 109.9,191.3 111.8,191.6 170,192 175.6,192.8 181.3,192.8 184.1,194.9 187.6,197.7 190.5,201.2 189.8,204.8 186.9,208.3 185.5,209.7 189.8,208.3 194.7,206.2 198.2,204.8 202.5,202.6 206.7,201.2 212.3,201.2 215.9,199.1 218,196.3 220.1,194.9 222.2,196.3 221.5,199.1 222.2,201.9 219.4,203.3 216,205.5 214,208 212,210 207,211.5 204,213 200,215 198,218 197,222 196,226 193,229 188,232 183,235 181,238 181,244 181,250 180,253.5 178.5,253 177,248 176.5,244 175,240 171,241 166,240.5 160,243 155,243.2 151.4,243.4 146,246.7 142.7,251 140.5,251 138.4,246.7 135.1,241.3 130.9,242.4 126.6,238 122.2,236.4 111.3,236.4 102.6,234.2 100,230 97,223 96,216 97,210 100,202 104,196"/>
<polygon points="125,141.25 130,142 140,141 150,141.25 154.5,140.5 159,141.6 165,143.5 167.25,145 172.5,145 176.25,144.25 180,143.5 183.75,143.5 187.5,144.25 192,145 195.75,144.25 198,143.5 201,142 204,140.5 206.25,139 210,137.5 211.25,143.5 216.5,142.75 222.5,142 224,143.5 221.75,145.75 218,147.25 214.25,148.75 211.25,150.25 208,153 206,156 196,160 189,163 186,168 190,170 198,174 201,176 201,182 204,185 207,178 210,174 215.75,167.5 217.5,163 219.5,160 221,158.5 228.5,158.5 231.5,161.5 233.75,166.75 236,167.5 242,163.75 243.1,165.25 244.25,172 245,175 248.75,176.25 251.25,178.75 252.5,181.25 250,185 245,186.25 240,188.1 233.75,189.4 230,190 226.25,191.25 222.5,193.1 220.1,194.9 218,196.3 215.9,199.1 212.3,201.2 206.7,201.2 202.5,202.6 198.2,204.8 194.7,206.2 189.8,208.3 185.5,209.7 186.9,208.3 189.8,204.8 190.5,201.2 187.6,197.7 184.1,194.9 181.3,192.8 175.6,192.8 170,192 111.5,191.6 110.5,190.1 108.7,188.2 106.2,186.4 106.5,183.9 107.1,181.5 106.8,178.4 107.4,175.9 108.7,175.9 111.1,174 110.5,171.6 109.9,166 108.7,164.2 104.3,165.4 101.3,162.3"/>
<polygon points="220.5,196.8 224,195.6 228,194.6 231.5,193.8 232.2,195.3 229,196.8 226.5,198.3 226.5,199.8 228.6,201.2 232,199.8 236.25,200 237.5,197.5 238,199.2 235,201 231,202.8 226.5,204 224.3,204.8 223.6,203.3 222.2,201.9 221.5,199.1"/>
<polygon points="103.4,187.6 105,187 107.4,188.9 108.7,191.3 108,193.2 106.2,191.3 104,188.9"/>
<polygon points="101.3,178.4 103.4,178.1 101.9,180.2 101,182.7 100.3,181.5"/>
<polygon points="241.25,193.75 245,190 248.75,187.5 251.25,190 253.75,193.75 252.5,197.5 248.75,196.25 246.25,195 243.75,195"/>
<polygon points="156.75,136 161.25,134.5 165,131.9 169.5,131.5 175.5,131.9 176.25,133.75 171,134.5 167.25,136 165,137.5 159.75,138.25"/>
<polygon points="166.5,136.75 172.5,135.25 178.5,134.5 183,135.25 187.5,134.5 190.5,133.75 192,136 190.5,138.25 192.75,140.5 189,142 184.5,142.75 180,142.75 174.75,142.75 169.5,142.4 166.5,141.25 166.1,139"/>
<polygon points="173.25,127.4 178.5,125.9 184.5,125.1 186.75,125.5 182.25,127 176.25,127.75"/>
<polygon points="178.5,128.9 183.75,127.75 189,128.1 192,127 194.25,126.6 198,128.1 195,129.6 189,130 183.75,130.75 180,130.4"/>
<polygon points="196.5,134.5 202.5,133 206.25,133.75 204.75,136.75 199.5,137.5 197.25,136"/>
<polygon points="206.5,122 212.5,122.75 211.75,124.25 206.5,123.5"/>
<polygon points="215.5,122.75 220,123.5 218.5,124.6 215.5,124"/>
<polygon points="205,127.25 211,127.25 209.5,129.5 205,129.5"/>
<polygon points="211,129.5 214.75,129.1 213.25,130.6 210.6,130.6"/>
<polygon points="207.25,132.5 214,132.1 215.5,133.25 211,134.75 207.25,134.75"/>
<polygon points="192,123.6 195,123.3 194,124.6 192,124.6"/>
<polygon points="223,120.5 227.5,119 233.5,117.5 238.75,116.75 246.25,116 253.75,115.25 261.25,114.9 265,115.25 264.25,117.5 257.5,119 253.75,120.5 250,122 247,123.5 242.5,125.75 238,126.9 232.75,126.9 227.5,126.5 229.75,124.25 226,123.5 223.75,122.4"/>
<polygon points="214.75,126.5 218.5,125.75 222.25,127.25 227.5,128.4 233.5,128.75 237.25,129.5 235,130.6 227.5,130.6 220,130.6 217.75,129.1"/>
<polygon points="214.25,137.5 217.25,134.5 222.5,133.75 230,133.4 233.75,134.5 237.5,136 242,137.5 246.5,139 248.75,141.25 246.5,143.1 249.5,145 254,147.25 252.5,148.75 249.5,151 246.5,149.5 243.5,150.25 245,152.5 245,155.5 242,156.25 240.5,157.75 238.25,157.75 236,155.5 233,154 230,152.5 225.5,153.25 223.25,152.5 226.25,151.75 230.75,151.4 233.75,149.5 235.25,147.25 236,145 233,143.5 230,142 226.25,141.25 222.5,140.5 218.75,140.1 215,139.4"/>
<polygon points="229.25,146.1 233,145 231.5,146.9"/>
<polygon points="207.5,154.75 211.25,151 215,152.5 218,154.75 215,155.5 211.25,155.5"/>
<polygon points="102.6,234.2 111.3,236.4 122.2,236.4 126.6,238 130.9,242.4 135.1,241.3 138.4,246.7 140.5,251 139.4,251.5 140.5,260.8 142.7,269.4 147,271.6 153.5,269.4 155.7,266.2 159,264 163.3,263.5 162.2,267.3 160,271.6 159,275 157,274 152,274 149.7,280.3 144.9,278.1 138.4,276 129.7,272.7 123.2,269.4 120.5,266.2 121,260.8 118.8,253.2 115.6,247.8 113.4,241.3 110.2,236.9 106.9,236.9 106.4,240.2 108,246.7 110.2,254.3 112.9,258.6 112.9,259.1 111.3,256.4 108,251 103.7,246.7 103.1,235.9"/>
<polygon points="151,274 156,273.6 159,273 159,278 158,282 154,283 150,282 150,278"/>
<polygon points="160,284 164,283 168,282 170,281 170,286 169,292 166,293 162,289"/>
<polygon points="166,293 169,292 171,296 170,299 167,297"/>
<polygon points="170,296 174,297 178,296 182,298 182,300 178,299 174,300 171,299"/>
<polygon points="168.5,262.3 170.6,260.6 173.5,259.2 176.3,259 179.1,259.9 182.6,260.9 185.5,262.7 188.3,264.5 191.1,265.9 192.5,266.6 191.1,267.3 187.6,267.3 185.5,267.3 184,266.2 182.6,264.8 180.5,262.7 177.7,261.6 174.9,260.9 172.1,261.6 169.9,262.7"/>
<polygon points="207.6,271 212,271.2 211.8,272.7 207.8,272.6"/>
<polygon points="219.5,291.6 221,291.8 220.8,292.8 219.5,292.6"/>
<polygon points="320,151.25 322.5,148.75 330,148 336.25,148.75 337.5,151.25 332.5,154.5 325,155 321.25,153"/>
<polygon points="197,289 194,288 190,290 186,292 183,298 181,302 182,308 180,314 177,317 180,319 186,320 190,325 194,326 198,327 200,330 200,324 205,320 206,314 204,310 200,306 197,302 194,298 195,293"/>
<polygon points="223.5,298.25 225,299 226.5,301 228.5,303 229.5,304.5 228.5,306 227.5,307 227.5,309 228.5,311 229.5,313 230,314.5 227.5,315.5 225,316 223.5,315 223,312.5 222.5,310 222,307.5 220,305 219.5,303.5 221,302 221.5,300"/>
<polygon points="206,314 210,310 215,309 217.5,308.5 220,307.5 222,307.5 223,312.5 223.5,315 225,316 227.5,315.5 230,314.5 232,314 234.5,313.5 236.5,313 238.5,313.5 240.5,311 242,309 243,309.5 244,312.5 245.5,316 246,318 250,320 258,325 264,327 272,329 278,332 281,336 280.5,340 277.3,346.5 274,353 271.8,361.7 269.7,372.5 265.3,379 258.8,382.3 254.5,385.5 252.3,392 250.2,398.5 245.8,405 242.6,402.8 237.2,400.7 233.9,399.6 239.3,392 240.4,387.7 235,383.3 231.8,376.8 229.6,372.5 228.5,366 222,361.7 219.8,357.3 215.5,350.8 209,346.5 204,346 200,348 195,346 192,342 193,336 196,332 200,330 200,324 205,320"/>
<polygon points="173.6,332.4 176,338 180,346 186,354 192,360 198,366 202.5,368.2 203.6,359.5 202.5,349.8 204,346 200,348 195,346 192,342 193,336 196,332 200,330 198,327 194,326 190,325 188,327 185,330 180,331 176,332"/>
<polygon points="175,318 180,319 186,320 190,325 188,327 185,330 180,331 176,332 174,329 175,324 174,321"/>
<polygon points="221,372.5 226.3,371.4 229.6,372.5 231.8,376.8 235,383.3 239.3,387.7 237.2,392 232.8,393 230.7,387.7 226.3,383.3 222,379"/>
<polygon points="210,380 216.6,378 221,372.5 222,379 226.3,383.3 230.7,387.7 232.8,393 237.2,392 240.4,388.8 239.3,394.2 235,398.5 232.8,405 235,409.3 237.2,412.6 235,415.8 232.8,421.3 228.5,422.3 226.3,426.7 227.4,431 225.3,435.3 224.2,441.8 222,446.2 223,452.7 224.2,457 232.8,463.5 226.3,464.6 222,461.3 216.6,454.8 213.3,448.3 212.3,439.7 210,431 209,422.3 208,409.3 206.8,396.3 208,383.3"/>
<polygon points="201.4,368.2 202.5,368.2 206.8,374.7 210,380 208,383.3 206.8,396.3 208,409.3 209,422.3 210,431 212.3,439.7 213.3,448.3 216.6,454.8 222,461.3 226.3,464.6 232.8,463.5 235,465.2 228.5,464 222,461.3 215.5,458 211.2,452.7 208,446.2 206.8,437.5 204.7,431 203.6,420.2 202.5,409.3 203.6,396.3 202.5,383.3"/>
<polygon points="233.9,399.6 237.2,400.7 242.6,402.8 245.8,405 243.7,410.4 239.3,411.5 235,409.3 232.8,405"/>
<polygon points="350.8,171.2 351.3,168 352.9,166.9 356.1,166.9 355.1,169.6 358.3,169.6 357.7,172.8 357.2,174.4 359.3,175.5 360.9,177.6 362.5,179.7 364.1,181.3 365.2,182.4 364.7,185.1 362,186.1 359.3,186.7 356.1,187.2 353.5,188.3 351.3,188.5 353.5,186.7 355.6,185.6 353.5,184.5 352.4,183.5 353.5,181.3 355.1,180.3 356.1,178.7 355.6,177.6 354,177 352.9,176 352.4,173.9"/>
<polygon points="342.8,182.9 343.3,179.2 346,177.1 348.1,176 350.3,176.5 350.8,178.1 349.7,180.8 348.7,182.9 346,184 343.3,184.3"/>
<polygon points="397.4,142.6 401.6,143.7 403,146.5 403,149.3 400.9,151.4 399.5,154.2 396,157 393.9,159.8 394.6,161.9 396.7,164 396,166.1 394.6,168.9 393.2,171 391.1,173.8 388.3,174.8 385.5,173.1 384.1,170.3 383.4,166.8 384.8,164 384.8,159.1 384.4,154.9 386.9,152.1 389.7,147.9 391.8,145.1 394.6,143.7"/>
<polygon points="406.5,141.6 409.3,140.9 410.7,143 412.1,145.8 414.2,148.6 415.6,152.8 418.4,156.3 419.1,157.7 417,159.8 412.8,161.9 408.6,162.9 405.1,162.6 402.3,161.2 400.9,158.4 401.6,155.6 403.7,153.5 406.5,151.4 405.1,150 403,149.3 403,146.5 403.7,143.7"/>
<polygon points="406.5,165.4 410,165 414.9,165.4 415,167.5 413,168.9 409,168.6 406.8,168"/>
<polygon points="403.5,170 406.8,168.6 409,168.9 413,168.9 415.6,169.6 415.6,171.5 414,173.1 410,173.1 406,172.8 403.2,172.5"/>
<polygon points="403.2,172.8 406,172.8 410,173.1 414,173.1 413.5,175 412.8,177 410,178 407,177.5 404.5,175.5"/>
<polygon points="391.25,179.25 395,177 398,176.25 402,177.5 407,177.75 408.5,178 409.25,181.75 410,186.25 409.25,188.5 407,189.25 402.5,188.9 398.75,187.75 397.25,188.25 393.5,186.75 392,186.75 390.9,183"/>
<polygon points="375.5,180.75 377.75,178.5 380,177 383,177.75 386,177.75 389.75,178.5 391.25,179.25 390.9,183 392,186.75 389,187.5 387.5,189 389.75,191.25 392,192.4 389.75,193.5 387.5,195 383,195.75 381.5,195 377.75,195 376.25,193.5 377.75,191.25 375.5,189.75 374.75,187.5 374,185.6 375.5,183.75"/>
<polygon points="378.5,171.75 380,170.25 382.25,170.25 381.5,174 380,176.25 378.5,175.5"/>
<polygon points="384.2,174 386,175.5 384.5,176.6 383.5,175.5"/>
<polygon points="370.25,184.5 371,181.5 373.25,180 375.5,180.75 375.5,183.75 374,185.6 371,185.25"/>
<polygon points="368.75,186.4 371,185.25 374,185.6 374.75,187.5 375.5,189.75 373.25,187.9 371,186.75"/>
<polygon points="353.75,192.75 356,192 358.25,190.5 362.75,189 366.5,187.5 368.75,186.4 371,186.75 373.25,187.9 375.5,189.75 377.75,191.25 376.25,193.5 377.75,195 376.25,196.5 375.5,196.5 374.75,198 376.25,200.25 377,202.5 376.5,203.75 376.25,205.5 375,206 371.75,207 369.75,206.75 367.5,207.5 363,207.1 360,206 359.75,205.5 359,202.5 359.75,198.75 358.25,195.75 356,193.9"/>
<polygon points="381,207.5 382.1,208.6 381.75,210.5 380.9,209.75"/>
<polygon points="375.5,196.5 377.75,195 381.5,195 383,195.75 383.75,197.25 381.5,198.75 378.5,198.75 376.25,198"/>
<polygon points="343.5,208.25 343.1,207 345,205.25 349.5,205.25 354,205.6 359.25,206 363,207.1 367.5,208.25 368.25,209.75 365.25,211.25 363,213.5 361.5,215.75 362.25,218 360,220.25 357,222.5 354,223.25 351,224 349.5,224.75 348,223.25 345.75,221.75 346.1,219.5 346.9,216.5 347.6,212.75 348,209.75 343.5,209"/>
<polygon points="343.5,209 348,209.75 347.6,212.75 346.9,216.5 346.1,219.5 345.75,221.75 345,222.5 343.5,222.1 343.1,220.25 342.75,218 342,216.5 342.4,214.25 343.1,211.25"/>
<polygon points="376.5,201 377.75,199.5 380,198.75 383.75,197.25 386,197.25 389.75,197.25 392.75,199.1 388.5,200.25 386.25,201.75 387,204.75 390,207.75 393.75,210 397.5,212.25 401.25,213.75 399.75,215.25 398.25,216 399,218.25 397.5,219.75 396.75,221.25 396,219 396.75,216.75 395.25,214.5 392.25,212.25 388.5,209.25 384.75,206.25 381.75,204 378.75,204 376.5,203.25"/>
<polygon points="389.25,219.75 393,219.4 395.6,220.5 394.9,223.1 392.25,222 390,220.9"/>
<polygon points="380.25,212 382.5,212.4 383.25,216.1 381.75,217.25 380.6,215.75"/>
<polygon points="383.75,196.9 383,195.75 387.5,195 389.75,193.5 392,192.4 395.75,192.75 397.25,193.25 398,193.5 396.5,194.5 397.25,196.5 393.5,197.25 389.75,197.25 386,197.25"/>
<polygon points="387.5,189 390.5,187.5 393.5,186.75 397.25,188.25 398,190.5 397.25,190.75 395,191.25 392,192.4 389.75,191.25"/>
<polygon points="397.25,190.75 399.5,190 403.25,190 407,189.6 408.9,190.75 406.25,192.25 402.5,193 399.5,193.4 398,193.5 398,192.6"/>
<polygon points="396.5,194.5 398,193.5 399.5,193.4 402.5,193 406.25,192.6 408.5,194.1 406.25,195.25 406.25,196.75 403.25,198.25 399.5,198.25 397.25,197.5 397.25,196.5"/>
<polygon points="392.75,199.1 392.75,197.5 393.5,197.25 397.25,196.5 397.25,197.9 395,198.25 394,199.5"/>
<polygon points="395,198.25 397.25,197.9 399.5,198.6 402.5,199.75 399.5,200.5 396.5,201.25 398,205 401.25,207.75 399,206.25 395.25,203.25 392.25,201 394,199.5"/>
<polygon points="402.5,199 406.25,197.5 406.25,196.75 408.5,199.75 410,202.75 410.75,204.25 410,205.5 409.25,207.25 406.25,208 404,205.75 403.25,203.5 402.5,200.5 402.5,199.75"/>
<polygon points="406.25,195.25 408.5,194.1 412.25,193.75 416.75,193 419.75,193.75 422,196 424.25,197.5 423.5,200.5 422.75,202.75 419.75,204.25 416.75,204.6 413,204.6 410.75,204.25 410,202.75 408.5,199.75 406.25,196.75"/>
<polygon points="410.75,204.25 413,204.6 416.75,204.6 419.75,204.25 422,205 421.25,208 420.5,209.5 417.5,210.25 414.5,209.5 411.5,208.75 410.25,206.5 410,205.5"/>
<polygon points="406.5,209.25 409.25,207.25 410.25,208.9 411.5,208.75 411,211.5 408,212.25"/>
<polygon points="406.5,213 408,212.25 411,211.5 414,211.5 417.5,210.25 418.5,210.75 420,212.25 417,213.75 414,214.5 411.75,215.25 411,217.5 414,219.75 412.5,222.75 410.25,221.25 408.75,219 407.25,216.75"/>
<polygon points="414,226.5 420,226.9 419.25,227.6 414.75,227.6"/>
<polygon points="421.5,210.75 425,211.75 428.75,210.6 433.25,209.9 437.75,209.9 442.25,210.6 446.75,212.1 449,211 452,209.5 455,209.5 458,210 460,216 458,219 450,220 442,223 435,222.75 432,223.5 427.5,223.9 424.5,222.75 421.5,219.75 420,216.75 420,213"/>
<polygon points="419.75,211 422.75,210.25 423.5,212.5 420.5,213.25"/>
<polygon points="432.5,226.75 436,226.5 437,226.9 435,228.25"/>
<polygon points="447.5,206 451,206.5 455,207 458,208.5 458,210 455,209.5 452,209.5 449,209"/>
<polygon points="458.2,189 461.4,185.8 465.6,184.7 470.9,185.2 476.2,186.3 482.5,185.8 483.6,182.6 483.1,179.4 486.8,178.4 492.1,176.8 497.4,175.7 500.6,176.2 504.8,178.4 509,178.9 512.2,178.4 516.4,181.5 520.7,184.7 524.9,185.8 529.2,186.8 533.4,187.9 538.7,190 537.6,192.1 534.4,194.2 533.4,197.4 532.3,200.6 531.3,203.8 532.3,208 529.2,209.1 524.9,210.1 521.7,212.3 518.6,214.4 522.8,216.5 524.9,218.6 523.9,221.8 518.6,220.7 514.3,219.7 511.1,220.7 509,221.8 506.9,219.7 503.7,216.5 499.5,213.3 495.3,211.2 491,209.1 487.8,208 484.7,208.5 481.5,210.1 478.3,209.1 475.1,208 472,205.9 468.8,202.7 469.8,199.5 472,197.4 468.8,196.4 465.6,197.4 462.4,196.4 459.2,194.2 457.6,191.6"/>
<polygon points="479.4,201.7 481.5,200.1 485.7,200.1 490,201.7 495.3,203.8 499.5,203.8 502.7,207 504.8,210.1 508,212.3 511.1,211.2 513.3,212.3 512.2,214.4 509,216.5 508.5,218.6 509,221.8 506.9,219.7 503.7,216.5 499.5,213.3 495.3,211.2 491,209.1 487.8,208 484.7,208.5 481.5,210.1 480.4,207"/>
<polygon points="511.1,211.2 514.3,209.1 518.6,207 522.8,205.9 529.2,207 532.3,208 529.2,209.1 524.9,210.1 521.7,212.3 518.6,214.4 516.4,212.3 513.3,212.3"/>
<polygon points="509,216.5 512.2,214.4 514.3,214.4 518.6,214.4 522.8,216.5 524.9,218.6 523.9,221.8 518.6,220.7 514.3,219.7 511.1,220.7 509,221.8 508.5,218.6"/>
<polygon points="541.6,191 544.3,188.7 547,187.4 551.4,187.8 559.5,189.2 559,184.3 563,184.3 567.5,186 570.2,187.8 575.6,187.8 580,188.7 584.5,190.5 588.1,190.1 591.7,188.7 595.2,189.6 598.8,191.4 599.7,194.1 605.1,194.5 609.6,196.8 606,197.7 600.6,200.4 597,202.2 597,204.8 595.2,207.5 589.9,208.4 586.3,209.8 580.9,208.9 575.6,207.5 568.4,207.5 564.8,205.7 561.3,203 555.9,201.3 551.4,199.5 550.5,195.9 547,193.7 543.4,192.8"/>
<polygon points="441.3,243 444.4,240.4 445.5,237.7 448.6,236.2 451.8,236.2 456,237.7 460.2,240.9 464.4,243 467.5,243.5 468.6,241.9 470.2,242.5 470.7,244.6 472.8,248.2 475.9,251.4 478,253.5 479.1,255.6 481.2,257.7 485.4,258.2 488.5,258.7 489.6,260.8 488.5,266.1 485.4,268.2 479.1,269.7 473.8,272.4 468.6,273.4 464.4,274.5 461.2,276 459.1,273.4 457,270.3 454.9,266.1 451.8,261.9 448.6,256.6 445.5,251.4 443.4,247.2"/>
<polygon points="480.1,256.6 483.3,257.2 486.4,256.6 488.5,254.5 489.6,251.4 490.1,254.5 489.6,258.7 485.4,258.7 481.2,258.2"/>
<polygon points="477.5,252.4 479.1,253.5 478.5,255.6 477.5,254.5"/>
<polygon points="489.6,258.7 491.7,257.7 495.9,259.8 498.5,261.9 496.9,265 494.8,268.2 492.7,271.3 488.5,274.5 484.3,275.5 482.2,271.3 485.4,268.2 488.5,266.1 489.6,260.8"/>
<polygon points="440.2,228.3 441.3,231.4 441.3,235.6 440.2,239.8 439.2,236.7 439.2,232.5"/>
<polygon points="636.25,220.5 639.25,219 641.5,219.75 643.75,222.75 645.25,225 644.9,227.25 642.25,228.75 640,229.1 638.5,226.5 637.75,223.5 636.6,222"/>
<polygon points="658,200.6 660.25,201.75 662.5,203.25 665.5,204 668.1,204.4 668.9,206.25 666.25,207 664,208.5 661.75,210 660.25,209.25 659.5,207 658.4,205.5"/>
<polygon points="661.75,212.25 663.25,211.5 665.5,213.75 667.75,216.75 668.5,220.5 670,223.5 670.4,226.5 667.75,227.25 664.75,228.75 662.5,230.25 661,228.75 658,228 655,227.25 652.75,228.75 650.5,231 649,232.5 651.25,229.5 653.5,226.5 656.5,225.75 659.5,225 660.25,222 662.5,220.5 664.75,218.25 664,215.25 662.5,213.75"/>
<polygon points="649,232.5 652,231.75 654.25,234 654.25,237 652.75,238.1 651.6,235.5 649.75,234"/>
<polygon points="655.75,231 658.75,230.25 659.5,231.75 656.5,232.5"/>
<polygon points="586.9,269.1 590.2,266.9 592.3,268 593.4,272.3 596.6,272.3 601,272.3 603.7,275.6 605.3,279.9 603.1,282.1 599.9,282.1 599.4,286.4 596.6,286.4 594.5,284.2 593.4,287.5 592.3,291.8 591.2,297.2 593.4,298.3 595.6,301.5 597.7,303.7 596.6,304.8 594.5,302.6 591.2,299.4 590.2,296.1 591.2,289.6 592.3,286.4 591.2,282.1 589.1,277.7 586.9,273.4"/>
<polygon points="595.6,303.7 597.7,304.2 601,307 602.6,311.3 604.2,316.7 602.6,316.7 598.8,312.4 596.6,309.1 595.6,305.9"/>
<polygon points="622,378 630,374 640,370 644,365 648,362 654,358 660,357 664,352 669,350 674,352 678.6,352 674.6,357.6 676,361 684,366.3 687,362.4 688.7,356 692,348 694,354 697,360 698,368 703,373 705,380 709,386 708,394 704,402 698,410 692,416 684,420 677,421 670,420 667,414 668,409 664,412 660,408 656,404 648,404 640,406 630,409 624,411 618,412 616,409 619,404 620,396 619,389 621,382"/>
<polygon points="671,428 679,428 677,432 672,435 670,433"/>
<polygon points="399.4,395.25 402,396.1 406.4,393.5 408.1,389.1 410.75,390 416,387.4 421.25,382.1 427.4,379.5 432.6,378.6 434.4,383 435.25,388.25 433.5,391.75 435.25,397 431.75,398.75 426.5,404 419.5,408.4 412.5,409.25 405.5,412 402.9,409.25 402,402.25"/>
</g>
</g></svg>
<svg width="850" height="600" viewBox="0 0 850 600" style="will-change:transform">
<defs><pattern id="nd2" patternUnits="userSpaceOnUse" width="4.5" height="4.5" patternTransform="rotate(-45)"><rect width="4.5" height="4.5" fill="#fff"/><rect width="4.5" height="0.9" fill="#d6d6d6"/></pattern></defs>
<text class="ti" x="17.2" y="39.7" textLength="320.5" lengthAdjust="spacingAndGlyphs">Reported suicide rates, 2023</text>
<text class="su" x="16.2" y="66.4" textLength="678" lengthAdjust="spacingAndGlyphs">Reported annual death rate from suicide per 100,000 people. Suicide deaths are underreported in many</text>
<text class="su" x="16.2" y="84.1" textLength="628" lengthAdjust="spacingAndGlyphs">countries due to social stigma and cultural or legal concerns. This data has not been adjusted for</text>
<text class="su" x="16.2" y="101.9" textLength="535" lengthAdjust="spacingAndGlyphs">underreporting, and comparisons may be affected by differences in measurement.</text>
<rect x="769" y="16" width="65" height="33.2" fill="#002147"/>
<rect x="769" y="49.2" width="65" height="2.6" fill="#ce261e"/>
<text class="lo" x="801.5" y="30.5" text-anchor="middle" textLength="56" lengthAdjust="spacingAndGlyphs">Our World</text>
<text class="lo" x="801.5" y="42.5" text-anchor="middle" textLength="37" lengthAdjust="spacingAndGlyphs">in Data</text>
<rect x="215.6" y="502.3" width="48" height="10.2" fill="url(#nd2)" stroke="#cfcfcf" stroke-width="0.8"/>
<line x1="239.4" y1="499.6" x2="239.4" y2="502.3" stroke="#999" stroke-width="0.7"/>
<rect x="283.2" y="502.3" width="58.3" height="10.2" fill="#feedde"/>
<rect x="341.5" y="502.3" width="58.6" height="10.2" fill="#fdd0a2"/>
<rect x="400.1" y="502.3" width="58.6" height="10.2" fill="#fdae6b"/>
<rect x="458.7" y="502.3" width="58.6" height="10.2" fill="#fd8d3c"/>
<rect x="517.3" y="502.3" width="58.3" height="10.2" fill="#e6550d"/>
<path d="M575.6 502.3 H629.1 L634.8 507.4 L629.1 512.5 H575.6 Z" fill="#a63603"/>
<path d="M283.2 502.3 H629.1 M283.2 512.5 H629.1" stroke="#888" stroke-width="0.4" fill="none" stroke-opacity="0.5"/>
<g stroke="#8a8a8a" stroke-width="0.6">
<line x1="283.2" y1="499.6" x2="283.2" y2="512.5"/><line x1="341.5" y1="499.6" x2="341.5" y2="512.5"/>
<line x1="400.1" y1="499.6" x2="400.1" y2="512.5"/><line x1="458.7" y1="499.6" x2="458.7" y2="512.5"/>
<line x1="517.3" y1="499.6" x2="517.3" y2="512.5"/><line x1="575.6" y1="499.6" x2="575.6" y2="512.5"/>
</g>
<text class="lg" x="216" y="495.5" textLength="46" lengthAdjust="spacingAndGlyphs">No data</text>
<g class="lg" text-anchor="middle">
<text x="283.5" y="495.5">0</text><text x="341.6" y="495.5">0</text><text x="400.3" y="495.5">5</text>
<text x="458.8" y="495.5">10</text><text x="517.3" y="495.5">15</text><text x="575.5" y="495.5">20</text>
</g>
<text class="ft" x="16.4" y="544.9" textLength="262" lengthAdjust="spacingAndGlyphs"><tspan class="b">Data source:</tspan> WHO Mortality Database (2025)</text>
<text class="ft" x="829" y="544.9" text-anchor="end" textLength="86" lengthAdjust="spacingAndGlyphs">suicide | CC BY</text>
<text class="ft" x="16.4" y="565.4" textLength="778" lengthAdjust="spacingAndGlyphs"><tspan class="b">Note:</tspan> Reported rates are based on the underlying cause of death listed on death certificates. To allow for comparisons between countries</text>
<text class="ft" x="16.4" y="580.8" textLength="260" lengthAdjust="spacingAndGlyphs">and over time, this metric is age-standardized.</text>
</svg>
</body></html>
